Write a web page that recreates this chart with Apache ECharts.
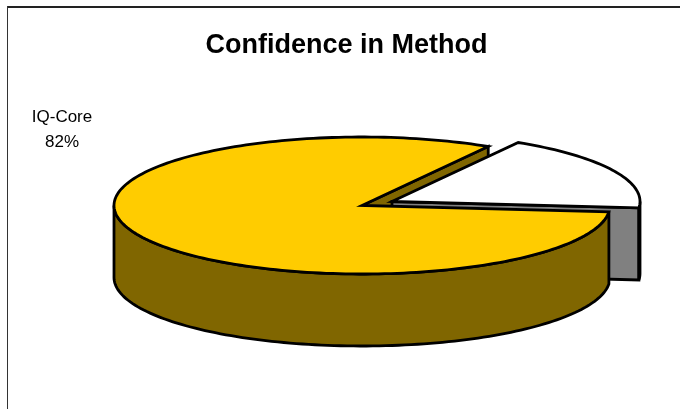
<!DOCTYPE html>
<html>
<head>
<meta charset="utf-8">
<style>
  html, body { margin: 0; padding: 0; background: #fff; }
  #main { width: 680px; height: 409px; }
</style>
<script src="https://cdn.jsdelivr.net/npm/echarts@6/dist/echarts.min.js"></script>
</head>
<body>
<div id="main"></div>
<script>
// chart values
var categories = ['IQ-Core', 'Other'];
var values = [82, 18];

// look of the pie
var topColors = ['#ffcc00', '#ffffff'];
var sideColors = ['#806600', '#808080'];
var shifts = [[0, 0], [30, -4]];   // the small slice is pulled out
var layers = [[0, 3, 4], [1, 1, 2]];  // z2 of cut face, rim, top
var cx = 362, cy = 205.5, rx = 248, ry = 68.5, depth = 72;
var startAngle = 59.4;
var total = values.reduce(function (a, b) { return a + b; }, 0);

function pt(c, deg, dy) {
    var r = deg * Math.PI / 180;
    return [c[0] + rx * Math.cos(r), c[1] - ry * Math.sin(r) + (dy || 0)];
}
function arc(c, from, to, dy) {
    var pts = [];
    var n = Math.max(2, Math.ceil(Math.abs(to - from) / 1.5));
    for (var i = 0; i <= n; i++) pts.push(pt(c, from + (to - from) * i / n, dy));
    return pts;
}
function face(points, fill, z2) {
    return {
        type: 'polygon',
        z2: z2,
        shape: { points: points },
        style: { fill: fill, stroke: '#000', lineWidth: 2.8, lineJoin: 'miter', miterLimit: 5 }
    };
}

function renderSlice(params, api) {
    var i = params.dataIndex;
    var before = 0;
    for (var k = 0; k < i; k++) before += values[k];
    var a0 = startAngle + before / total * 360;
    var a1 = a0 + api.value(1) / total * 360;
    var c = [cx + shifts[i][0], cy + shifts[i][1]];
    var z = layers[i];
    var children = [];

    // cut faces, only the ones turned to the viewer
    [[a0, a0 - 90], [a1, a1 + 90]].forEach(function (f) {
        if (Math.sin(f[1] * Math.PI / 180) < 0) {
            var p = pt(c, f[0]);
            children.push(face([c, p, [p[0], p[1] + depth], [c[0], c[1] + depth]], sideColors[i], z[0]));
        }
    });

    // outer wall on the front half of the ellipse
    [[180, 360], [540, 720]].forEach(function (w) {
        var from = Math.max(a0, w[0]), to = Math.min(a1, w[1]);
        if (to > from) {
            children.push(face(arc(c, from, to).concat(arc(c, to, from, depth)), sideColors[i], z[1]));
        }
    });

    // top of the slice
    children.push(face([c].concat(arc(c, a0, a1)), topColors[i], z[2]));
    return { type: 'group', children: children };
}

var chart = echarts.init(document.getElementById('main'));
var option = {
    animation: false,
    backgroundColor: '#fff',
    title: {
        text: 'Confidence in Method',
        left: 341.5,
        top: 27,
        textAlign: 'center',
        textStyle: { fontFamily: 'Liberation Sans', fontSize: 27, fontWeight: 'bold', color: '#000' }
    },
    graphic: [
        { type: 'line', silent: true, shape: { x1: 7, y1: 7, x2: 680, y2: 7 },
          style: { stroke: '#222', lineWidth: 2 } },
        { type: 'line', silent: true, shape: { x1: 7.5, y1: 6, x2: 7.5, y2: 409 },
          style: { stroke: '#333', lineWidth: 1 } },
        { type: 'text', x: 62, y: 105,
          style: { text: categories[0] + '\n' + values[0] + '%', fontFamily: 'Liberation Sans', fontSize: 17,
                   lineHeight: 25, align: 'center', fill: '#000' } }
    ],
    series: [{
        type: 'custom',
        coordinateSystem: 'none',
        renderItem: renderSlice,
        data: values.map(function (v, i) { return [i, v]; })
    }]
};
chart.setOption(option);
</script>
</body>
</html>
